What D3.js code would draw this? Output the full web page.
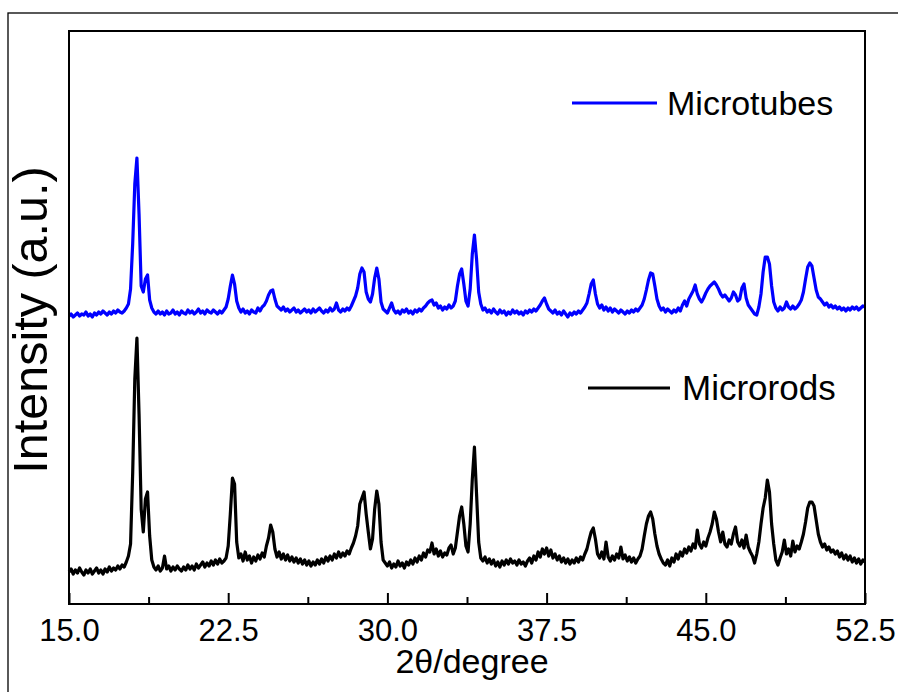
<!DOCTYPE html>
<html lang="en">
<head>
<meta charset="UTF-8">
<title>XRD Microtubes / Microrods</title>
<script src="https://d3js.org/d3.v7.min.js"></script>
<style>
    body { margin: 0; background: #fff; }
    text { font-family: Arial, "Liberation Sans", sans-serif; fill: #000; }
</style>
</head>
<body>
<svg id="chart" width="898" height="692"></svg>
<script>
    // 2theta sampling grid, 0.1 degree steps from 15.0 to 52.5
    const twoTheta = d3.range(0, 376).map(i => +(15 + i * 0.1).toFixed(1));

    // Microtubes intensity (a.u.), one row per degree (x.0 ... x.9)
    const microtubes = [
        288,290,287,289,291,288,290,289,292,288,
        290,287,291,289,292,290,293,291,289,292,
        290,293,291,294,292,291,293,296,300,315,
        360,420,446,390,318,312,325,329,304,296,
        292,290,293,290,292,289,293,290,291,294,
        290,292,289,293,291,290,294,291,293,290,
        292,295,291,293,290,294,292,291,294,292,
        290,293,291,294,297,305,318,329,320,303,
        296,292,295,291,293,290,294,292,291,296,
        293,297,299,303,309,313,314,305,298,296,
        294,297,293,295,292,294,296,292,294,291,
        293,295,292,294,291,295,292,294,296,293,
        291,294,292,296,293,295,301,294,292,295,
        293,296,294,298,303,308,316,330,336,332,
        312,305,302,310,326,336,325,302,295,293,
        291,296,301,294,291,293,290,294,292,295,
        291,293,290,294,292,295,293,296,298,301,
        303,304,299,301,296,298,294,297,295,299,
        296,298,303,318,330,335,320,303,298,315,
        350,369,345,312,300,294,296,292,294,291,
        295,292,290,294,291,293,289,292,290,294,
        291,293,290,292,289,293,291,294,292,295,
        293,296,299,303,306,300,295,293,291,294,
        290,292,289,293,290,287,291,289,292,290,
        293,291,294,297,301,310,320,324,310,300,
        296,299,294,297,293,296,292,295,293,291,
        294,292,290,293,291,294,292,295,293,296,
        299,305,314,324,331,330,318,305,298,294,
        296,292,295,293,291,294,292,296,293,299,
        303,298,305,309,313,319,310,305,302,306,
        311,315,318,320,322,319,315,310,307,309,
        306,303,306,312,309,303,305,316,320,306,
        299,296,293,290,289,297,310,332,347,347,
        340,318,302,296,293,297,294,296,302,297,
        295,298,295,297,300,304,312,325,337,341,
        338,326,314,307,305,302,299,301,297,299,
        296,298,295,297,294,296,293,296,294,297,
        295,297,294,296,298,297
    ];

    // Microrods intensity (a.u.)
    const microrods = [
        32,35,30,34,31,36,32,29,34,31,
        35,30,33,36,31,34,30,35,32,37,
        33,36,34,38,35,39,37,42,48,60,
        131,225,266,190,95,72,105,112,68,44,
        37,34,38,33,36,48,35,38,33,37,
        34,38,35,33,37,34,39,35,38,34,
        40,36,39,42,37,41,38,43,39,44,
        40,45,41,43,46,58,90,126,120,62,
        46,50,43,52,44,48,41,47,43,49,
        45,51,47,58,66,79,72,55,47,52,
        45,50,44,49,43,47,42,46,41,45,
        40,44,39,43,38,42,39,44,40,45,
        41,47,43,48,44,50,46,52,47,51,
        48,53,50,56,61,68,78,100,106,112,
        90,72,55,65,95,113,100,62,44,41,
        38,42,36,40,37,43,38,41,36,42,
        39,44,40,46,42,48,44,51,47,54,
        52,61,50,55,48,53,47,51,49,56,
        59,50,56,72,88,97,80,58,52,80,
        125,157,110,62,46,43,47,41,45,40,
        44,38,42,37,43,39,44,40,45,41,
        43,39,44,40,42,38,43,46,41,48,
        44,52,47,55,50,56,48,54,46,50,
        44,48,42,46,41,45,40,44,41,46,
        42,47,44,50,55,64,72,76,65,50,
        46,52,45,62,47,43,48,44,50,46,
        57,45,49,43,47,42,46,41,45,48,
        55,68,80,88,92,85,70,58,50,45,
        41,39,44,38,46,42,50,45,52,48,
        55,51,57,53,60,56,74,60,56,62,
        58,66,72,80,92,85,72,62,72,60,
        57,64,60,70,77,62,58,64,56,69,
        57,52,48,41,50,62,80,96,106,124,
        112,80,60,44,39,46,52,64,50,55,
        48,63,52,58,55,62,70,82,96,102,
        102,98,84,70,62,57,60,54,57,52,
        54,50,53,47,51,45,49,44,48,42,
        46,41,45,40,44,42
    ];

    const majorTicks = [15.0, 22.5, 30.0, 37.5, 45.0, 52.5];
    const minorTicks = [18.75, 26.25, 33.75, 41.25, 48.75];

    const seriesNames = ['Microtubes', 'Microrods'];
    const seriesColors = ['#0000ff', '#000000'];

    const svg = d3.select('#chart');
    const W = 898, H = 692;
    const margin = { left: 69, top: 31, right: 33, bottom: 88 };
    const plotW = W - margin.left - margin.right;
    const plotH = H - margin.top - margin.bottom;

    // outer figure border (cut off on right and bottom)
    svg.append('rect')
        .attr('x', 8).attr('y', 13)
        .attr('width', 1000).attr('height', 1000)
        .attr('fill', 'none')
        .attr('stroke', '#000')
        .attr('stroke-width', 1.3);

    const g = svg.append('g').attr('transform', `translate(${margin.left},${margin.top})`);

    const x = d3.scaleLinear().domain([15, 52.5]).range([0, plotW]);
    const y = d3.scaleLinear().domain([0, 573]).range([plotH, 0]);

    const line = d3.line()
        .x((d, i) => x(twoTheta[i]))
        .y(d => y(d));

    [microrods, microtubes].forEach((series, k) => {
        g.append('path')
            .datum(series)
            .attr('d', line)
            .attr('fill', 'none')
            .attr('stroke', k === 0 ? seriesColors[1] : seriesColors[0])
            .attr('stroke-width', 3.2)
            .attr('stroke-linejoin', 'round');
    });

    // major ticks (inward) with labels
    const xAxis = g.append('g')
        .attr('transform', `translate(0,${plotH})`)
        .call(d3.axisBottom(x)
            .tickValues(majorTicks)
            .tickFormat(d3.format('.1f'))
            .tickSize(-11)
            .tickPadding(15));
    xAxis.select('.domain').remove();
    xAxis.selectAll('line').attr('stroke', '#000').attr('stroke-width', 2);
    xAxis.selectAll('text')
        .style('font-family', 'Arial, "Liberation Sans", sans-serif')
        .style('font-size', '31px')
        .attr('fill', '#000');

    // minor ticks
    const xMinor = g.append('g')
        .attr('transform', `translate(0,${plotH})`)
        .call(d3.axisBottom(x).tickValues(minorTicks).tickFormat('').tickSize(-7));
    xMinor.select('.domain').remove();
    xMinor.selectAll('line').attr('stroke', '#000').attr('stroke-width', 2);

    // plot frame
    g.append('rect')
        .attr('x', 0).attr('y', 0)
        .attr('width', plotW).attr('height', plotH)
        .attr('fill', 'none')
        .attr('stroke', '#000')
        .attr('stroke-width', 2);

    // axis titles
    svg.append('text')
        .attr('x', 472)
        .attr('y', 673)
        .attr('text-anchor', 'middle')
        .style('font-size', '34px')
        .text('2θ/degree');

    svg.append('text')
        .attr('transform', 'translate(47,320) rotate(-90)')
        .attr('text-anchor', 'middle')
        .style('font-size', '48.5px')
        .text('Intensity (a.u.)');

    // legends
    const legendPos = [
        { x1: 572, x2: 657, y: 103, tx: 667 },
        { x1: 588, x2: 670, y: 388, tx: 682 }
    ];
    seriesNames.forEach((name, i) => {
        const p = legendPos[i];
        svg.append('line')
            .attr('x1', p.x1).attr('x2', p.x2)
            .attr('y1', p.y).attr('y2', p.y)
            .attr('stroke', seriesColors[i])
            .attr('stroke-width', 3);
        svg.append('text')
            .attr('x', p.tx)
            .attr('y', p.y + 12)
            .style('font-size', i === 0 ? '34px' : '35px')
            .text(name);
    });
</script>
</body>
</html>
